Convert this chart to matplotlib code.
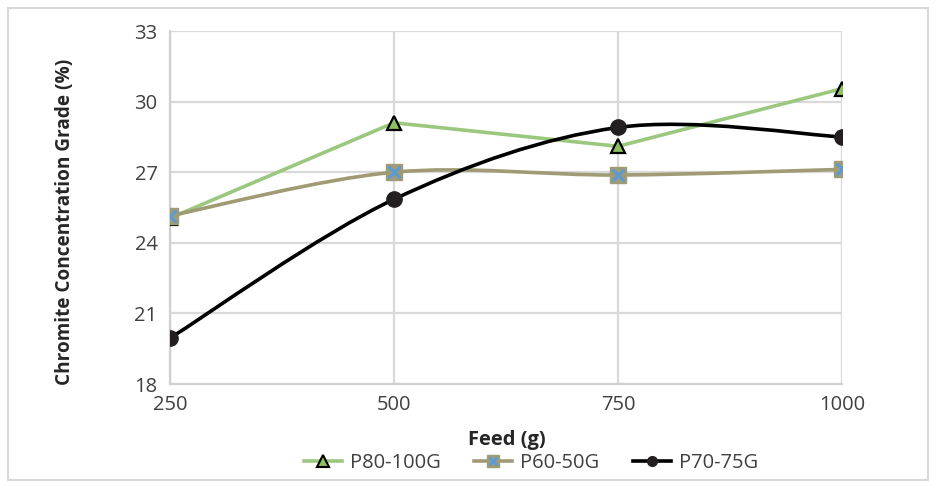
import matplotlib
matplotlib.use("Agg")
import matplotlib.pyplot as plt
from matplotlib.path import Path
from matplotlib.patches import PathPatch, Rectangle
from matplotlib.lines import Line2D
from matplotlib.legend_handler import HandlerTuple
import numpy as np

feed = [250, 500, 750, 1000]
p80_100g = [25.05, 29.1, 28.1, 30.55]
p60_50g = [25.15, 27.0, 26.88, 27.12]
p70_75g = [19.95, 25.85, 28.9, 28.5]
yticks = [18, 21, 24, 27, 30, 33]

plt.rcParams['font.family'] = ['Open Sans', 'DejaVu Sans']

fig = plt.figure(figsize=(9.36, 4.86), dpi=100)
ax = fig.add_axes([170/936, 1-384/486, (842-170)/936, (384-31)/486])

green = '#9bc77f'
khaki = '#a09b74'
blue = '#5b9bd5'
black = '#000000'
dark = '#231f20'

def smooth_path(xs, ys):
    pts = np.column_stack([xs, ys]).astype(float)
    n = len(pts)
    verts = [pts[0]]
    codes = [Path.MOVETO]
    for i in range(n - 1):
        p0 = pts[i - 1] if i > 0 else pts[i]
        p1 = pts[i]
        p2 = pts[i + 1]
        p3 = pts[i + 2] if i + 2 < n else pts[i + 1]
        c1 = p1 + (p2 - p0) / 6.0
        c2 = p2 - (p3 - p1) / 6.0
        verts += [c1, c2, p2]
        codes += [Path.CURVE4] * 3
    return Path(verts, codes)

ax.set_axisbelow(True)
ax.grid(True, color='#d9d9d9', linewidth=1.6)

ax.plot(feed, p80_100g, color=green, linewidth=2.6, zorder=3)
ax.add_patch(PathPatch(smooth_path(feed, p60_50g), facecolor='none', edgecolor=khaki, linewidth=2.6, zorder=3))
ax.add_patch(PathPatch(smooth_path(feed, p70_75g), facecolor='none', edgecolor=black, linewidth=2.6, zorder=4))

ax.plot(feed, p80_100g, linestyle='none', marker='^', markersize=10, markerfacecolor='#8cc063',
        markeredgecolor='black', markeredgewidth=1.6, zorder=5)
ax.plot(feed, p60_50g, linestyle='none', marker='s', markersize=11, markerfacecolor=khaki,
        markeredgecolor=khaki, zorder=5)
ax.plot(feed, p60_50g, linestyle='none', marker='x', markersize=9, markeredgecolor=blue,
        markeredgewidth=2.2, zorder=6)
ax.plot(feed, p70_75g, linestyle='none', marker='o', markersize=11, markerfacecolor=dark,
        markeredgecolor=dark, zorder=6)

ax.set_xlim(250, 1000)
ax.set_ylim(18, 33)
ax.set_xticks(feed)
ax.set_yticks(yticks)
ax.tick_params(length=0, labelsize=14.5, colors='#404040')
ax.tick_params(axis='y', pad=9)
ax.tick_params(axis='x', pad=8)
for s in ['top', 'right']:
    ax.spines[s].set_visible(False)
for s in ['left', 'bottom']:
    ax.spines[s].set_color('#d0d0d0')
    ax.spines[s].set_linewidth(1.6)

ax.set_ylabel('Chromite Concentration Grade (%)', fontsize=13.7, fontweight='bold', color='#262626')
ax.yaxis.set_label_coords((75-170)/672, (384-222)/353)
ax.set_xlabel('Feed (g)', fontsize=14.5, fontweight='bold', color='#262626')
ax.xaxis.set_label_coords((507-170)/672, (384-430)/353)

h1 = Line2D([], [], color=green, linewidth=2.6, marker='^', markersize=8, markerfacecolor='#8cc063',
            markeredgecolor='black', markeredgewidth=1.5)
h2a = Line2D([], [], color=khaki, linewidth=2.6, marker='s', markersize=8, markerfacecolor=khaki,
             markeredgecolor=khaki)
h2b = Line2D([], [], linestyle='none', marker='x', markersize=6, markeredgecolor=blue, markeredgewidth=2)
h3 = Line2D([], [], color=black, linewidth=2.6, marker='o', markersize=7, markerfacecolor=dark,
            markeredgecolor=dark)
leg = fig.legend([h1, (h2a, h2b), h3], ['P80-100G', 'P60-50G', 'P70-75G'],
                 handler_map={tuple: HandlerTuple(ndivide=1)},
                 loc='center', bbox_to_anchor=(531/936, 1-463/486), ncol=3, frameon=False,
                 fontsize=14.5, handlelength=1.9, columnspacing=1.65, handletextpad=0.4)
for t in leg.get_texts():
    t.set_color('#404040')

fig.patches.append(Rectangle((8/936, 6/486), 920/936, 472/486, transform=fig.transFigure,
                             facecolor='none', edgecolor='#d9d9d9', linewidth=1.5))

fig.savefig('out.png', dpi=100)
